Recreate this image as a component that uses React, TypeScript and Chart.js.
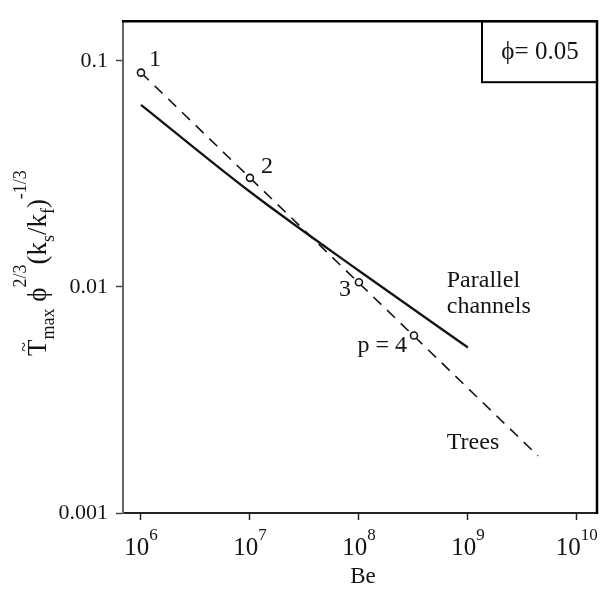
import React, { useEffect, useRef } from 'react';
import { Chart, registerables } from 'chart.js';

Chart.register(...registerables);

// ---- data ----
const treeBe = [1e6, 1e7, 1e8, 3.2e8];
const treeT = [0.0888, 0.0304, 0.0105, 0.0061];
const treeLabels = ['1', '2', '3', 'p = 4'];
const treeFitBe = [1e6, 4.4e9];
const treeFitT = [0.0888, 0.00179];
const parallelBe = [1e6, 1e7, 1e8, 1e9];
const parallelT = [0.064, 0.0264, 0.0118, 0.0054];
const xTickExponents = [6, 7, 8, 9, 10];
const yTickValues = [0.001, 0.01, 0.1];
const yTickLabels = ['0.001', '0.01', '0.1'];
const curveNotes = [
  { text: 'Parallel', be: 6.4e8, t: 0.0107 },
  { text: 'channels', be: 6.4e8, t: 0.0082 },
  { text: 'Trees', be: 6.4e8, t: 0.00204 },
];
const phiNote = 'ϕ= 0.05';
const xTitle = 'Be';

const X_MIN = 6.84e5;
const X_MAX = 1.53e10;
const Y_MIN = 0.001;
const Y_MAX = 0.15;

const SERIF = '"Liberation Serif", "Times New Roman", serif';
const INK = '#141414';

// label offsets (pixels) for point labels: [dx, dy, align]
const pointLabelOffsets: [number, number, CanvasTextAlign][] = [
  [14, -13, 'center'],
  [17, -11, 'center'],
  [-14, 7, 'center'],
  [-7, 10, 'right'],
];

const decorPlugin = {
  id: 'decor',
  afterDraw(chart: any) {
    const { ctx, chartArea: ca, scales } = chart;
    const xs = scales.x;
    const ys = scales.y;
    ctx.save();

    // top and right frame
    ctx.strokeStyle = '#000';
    ctx.lineWidth = 2.5;
    ctx.beginPath();
    ctx.moveTo(ca.left - 1, ca.top);
    ctx.lineTo(ca.right, ca.top);
    ctx.lineTo(ca.right, ca.bottom + 1);
    ctx.stroke();

    // phi box
    ctx.lineWidth = 2;
    ctx.strokeRect(ca.right - 115, ca.top, 115, 61);
    ctx.fillStyle = INK;
    ctx.font = `25px ${SERIF}`;
    ctx.textAlign = 'center';
    ctx.textBaseline = 'middle';
    ctx.fillText(phiNote, ca.right - 57, ca.top + 31);

    // x tick labels 10^n
    ctx.textBaseline = 'alphabetic';
    ctx.textAlign = 'left';
    xTickExponents.forEach((e) => {
      const px = xs.getPixelForValue(Math.pow(10, e));
      ctx.font = `25px ${SERIF}`;
      const wBase = ctx.measureText('10').width;
      ctx.font = `17px ${SERIF}`;
      const wExp = ctx.measureText(String(e)).width;
      const start = px - (wBase + wExp) / 2;
      ctx.font = `25px ${SERIF}`;
      ctx.fillText('10', start, ca.bottom + 42);
      ctx.font = `17px ${SERIF}`;
      ctx.fillText(String(e), start + wBase, ca.bottom + 27);
    });

    // x title
    ctx.font = `23px ${SERIF}`;
    ctx.textAlign = 'center';
    ctx.fillText(xTitle, (ca.left + ca.right) / 2 + 3, ca.bottom + 70);

    // y title (rotated)
    const segs: { t: string; k: 'm' | 'sup' | 'sub' }[] = [
      { t: 'T', k: 'm' },
      { t: 'max', k: 'sub' },
      { t: ' ', k: 'm' },
      { t: 'ϕ', k: 'm' },
      { t: '2/3', k: 'sup' },
      { t: '(k', k: 'm' },
      { t: 's', k: 'sub' },
      { t: '/k', k: 'm' },
      { t: 'f', k: 'sub' },
      { t: ')', k: 'm' },
      { t: '-1/3', k: 'sup' },
    ];
    const fontFor = (k: string) => (k === 'm' ? `27px ${SERIF}` : `18px ${SERIF}`);
    const shiftFor = (k: string) => (k === 'sup' ? -20 : k === 'sub' ? 8 : 0);
    let total = 0;
    const widths = segs.map((s) => {
      ctx.font = fontFor(s.k);
      const w = ctx.measureText(s.t).width;
      total += w;
      return w;
    });
    const cy = (ca.top + ca.bottom) / 2 - 4;
    ctx.save();
    ctx.translate(46, cy);
    ctx.rotate(-Math.PI / 2);
    ctx.textAlign = 'left';
    let xr = -total / 2;
    segs.forEach((s, i) => {
      ctx.font = fontFor(s.k);
      ctx.fillText(s.t, xr, shiftFor(s.k));
      if (i === 0) {
        ctx.font = `18px ${SERIF}`;
        ctx.textAlign = 'center';
        ctx.fillText('~', xr + widths[0] / 2 + 1, -16);
        ctx.textAlign = 'left';
      }
      xr += widths[i];
    });
    ctx.restore();

    // point labels
    ctx.font = `24px ${SERIF}`;
    ctx.textBaseline = 'middle';
    treeBe.forEach((be, i) => {
      const px = xs.getPixelForValue(be);
      const py = ys.getPixelForValue(treeT[i]);
      const [dx, dy, al] = pointLabelOffsets[i];
      ctx.textAlign = al;
      ctx.fillText(treeLabels[i], px + dx, py + dy);
    });

    // curve notes
    ctx.textAlign = 'left';
    curveNotes.forEach((n) => {
      ctx.fillText(n.text, xs.getPixelForValue(n.be), ys.getPixelForValue(n.t));
    });

    ctx.restore();
  },
};

export default function App() {
  const ref = useRef<HTMLCanvasElement | null>(null);

  useEffect(() => {
    if (!ref.current) return;
    const chart = new Chart(ref.current, {
      type: 'scatter',
      data: {
        datasets: [
          {
            label: 'Tree points',
            data: treeBe.map((x, i) => ({ x, y: treeT[i] })),
            showLine: false,
            pointRadius: 3.5,
            pointBorderWidth: 1.6,
            pointBackgroundColor: '#fff',
            pointBorderColor: INK,
          },
          {
            label: 'Trees',
            data: treeFitBe.map((x, i) => ({ x, y: treeFitT[i] })),
            showLine: true,
            borderColor: INK,
            borderWidth: 1.6,
            borderDash: [11, 8],
            pointRadius: 0,
          },
          {
            label: 'Parallel channels',
            data: parallelBe.map((x, i) => ({ x, y: parallelT[i] })),
            showLine: true,
            borderColor: INK,
            borderWidth: 2.3,
            pointRadius: 0,
            cubicInterpolationMode: 'monotone',
          },
        ],
      },
      options: {
        animation: false,
        responsive: false,
        layout: { padding: { top: 7, right: 15, left: 0, bottom: 0 } },
        plugins: {
          legend: { display: false },
          tooltip: { enabled: false },
        },
        scales: {
          x: {
            type: 'logarithmic',
            min: X_MIN,
            max: X_MAX,
            bounds: 'data',
            afterBuildTicks: (s: any) => {
              s.ticks = xTickExponents.map((e) => ({ value: Math.pow(10, e) }));
            },
            afterFit: (s: any) => {
              s.height = 76;
            },
            ticks: { display: false },
            grid: {
              display: true,
              drawOnChartArea: false,
              drawTicks: true,
              tickLength: 7,
              tickColor: '#222',
              tickWidth: 1.5,
            },
            border: { display: true, color: '#222', width: 2 },
          },
          y: {
            type: 'logarithmic',
            min: Y_MIN,
            max: Y_MAX,
            bounds: 'data',
            afterBuildTicks: (s: any) => {
              s.ticks = yTickValues.map((v) => ({ value: v }));
            },
            afterFit: (s: any) => {
              s.width = 123;
            },
            ticks: {
              autoSkip: false,
              padding: 8,
              color: INK,
              font: { family: SERIF, size: 22 },
              callback: (_v: any, i: number) => yTickLabels[i],
            },
            grid: {
              display: true,
              drawOnChartArea: false,
              drawTicks: true,
              tickLength: 7,
              tickColor: '#444',
              tickWidth: 1.5,
            },
            border: { display: true, color: '#666', width: 2 },
          },
        },
      } as any,
      plugins: [decorPlugin],
    });
    return () => chart.destroy();
  }, []);

  return (
    <div style={{ position: 'absolute', left: 0, top: 0, width: 612, height: 589, background: '#fff' }}>
      <canvas ref={ref} width={612} height={589} style={{ display: 'block' }} />
    </div>
  );
}
